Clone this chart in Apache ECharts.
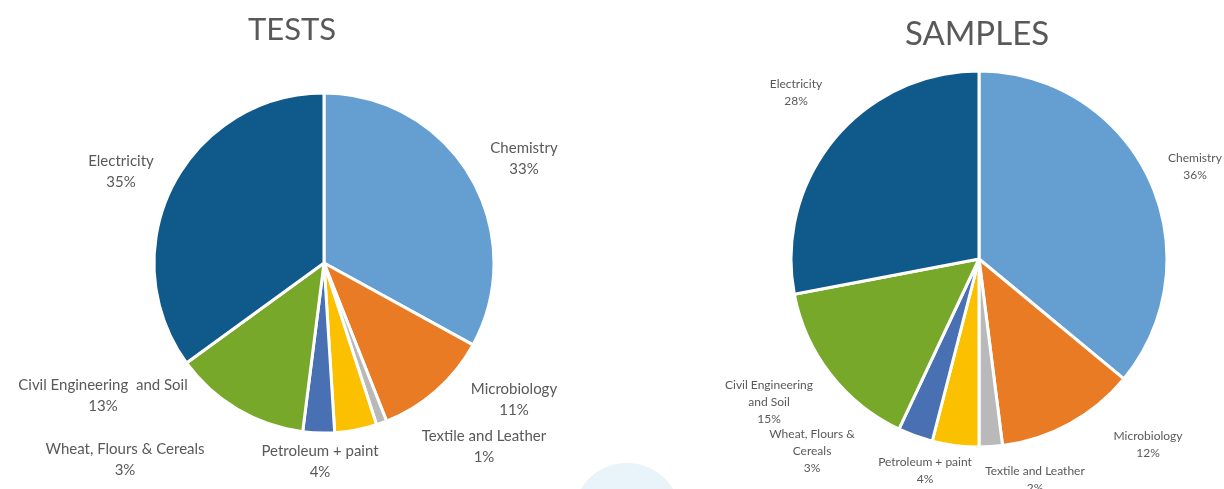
<!DOCTYPE html>
<html>
<head>
<meta charset="utf-8">
<script src="https://cdn.jsdelivr.net/npm/echarts@6/dist/echarts.min.js"></script>
<style>
  html, body { margin: 0; padding: 0; background: #fff; }
  #grafico { width: 1224px; height: 489px; }
</style>
</head>
<body>
<div id="grafico"></div>
<script>
// categorias na ordem do gráfico (sentido horário a partir do topo)
const categorias = [
  "Chemistry",
  "Microbiology",
  "Textile and Leather",
  "Petroleum + paint",
  "Wheat, Flours & Cereals",
  "Civil Engineering  and Soil",
  "Electricity",
];
const rotulosSamples = [
  "Chemistry",
  "Microbiology",
  "Textile and Leather",
  "Petroleum + paint",
  "Wheat, Flours &\nCereals",
  "Civil Engineering\nand Soil",
  "Electricity",
];
const valoresTests = [33, 11, 1, 4, 3, 13, 35];
const valoresSamples = [36, 12, 2, 4, 3, 15, 28];

const cores = ["#659fd2", "#e87b23", "#b9b9b9", "#fbc000", "#4870b2", "#78a82a", "#105a8b"];

// posição (centro) dos rótulos, como no original
const posTests = [[524, 159], [514, 400], [484, 447], [320, 462], [125, 460], [103, 396], [121, 172]];
const posSamples = [[1195, 167], [1148, 445], [1035, 480], [925, 471], [812, 451], [769, 402], [796, 93]];

const fonte = "Lato, 'Open Sans', sans-serif";
const chart = echarts.init(document.getElementById("grafico"));

function montarDados(nomes, valores) {
  return valores.map((v, i) => ({
    name: nomes[i],
    value: v,
    itemStyle: { color: cores[i] },
  }));
}

function serie(nomes, valores, centro, raio, pos, tam, alt) {
  return {
    type: "pie",
    center: centro,
    radius: raio,
    startAngle: 90,
    clockwise: true,
    animation: false,
    silent: true,
    itemStyle: { borderColor: "#fff", borderWidth: 3 },
    label: {
      show: true,
      position: "outside",
      alignTo: "none",
      overflow: "none",
      bleedMargin: 0,
      formatter: (p) => p.name + "\n" + p.value + "%",
      color: "#595959",
      fontFamily: fonte,
      fontSize: tam,
      lineHeight: alt,
      align: "center",
    },
    labelLine: { show: false },
    labelLayout: (p) => ({
      x: pos[p.dataIndex][0],
      y: pos[p.dataIndex][1],
      align: "center",
      verticalAlign: "middle",
      width: 300,
    }),
    data: montarDados(nomes, valores),
  };
}

chart.setOption({
  backgroundColor: "#fff",
  title: [
    {
      text: "TESTS",
      left: 287,
      top: 9,
      textAlign: "center",
      textStyle: { color: "#595959", fontFamily: fonte, fontSize: 31, fontWeight: "normal" },
    },
    {
      text: "SAMPLES",
      left: 972,
      top: 13,
      textAlign: "center",
      textStyle: { color: "#595959", fontFamily: fonte, fontSize: 33, fontWeight: "normal" },
    },
  ],
  graphic: [
    {
      type: "circle",
      shape: { cx: 627, cy: 517, r: 54 },
      style: { fill: "#e8f4fa" },
      z: -1,
      silent: true,
    },
  ],
  series: [
    serie(categorias, valoresTests, [324, 263], 170, posTests, 15, 21),
    serie(rotulosSamples, valoresSamples, [979, 259], 188, posSamples, 12, 17),
  ],
});
</script>
</body>
</html>
